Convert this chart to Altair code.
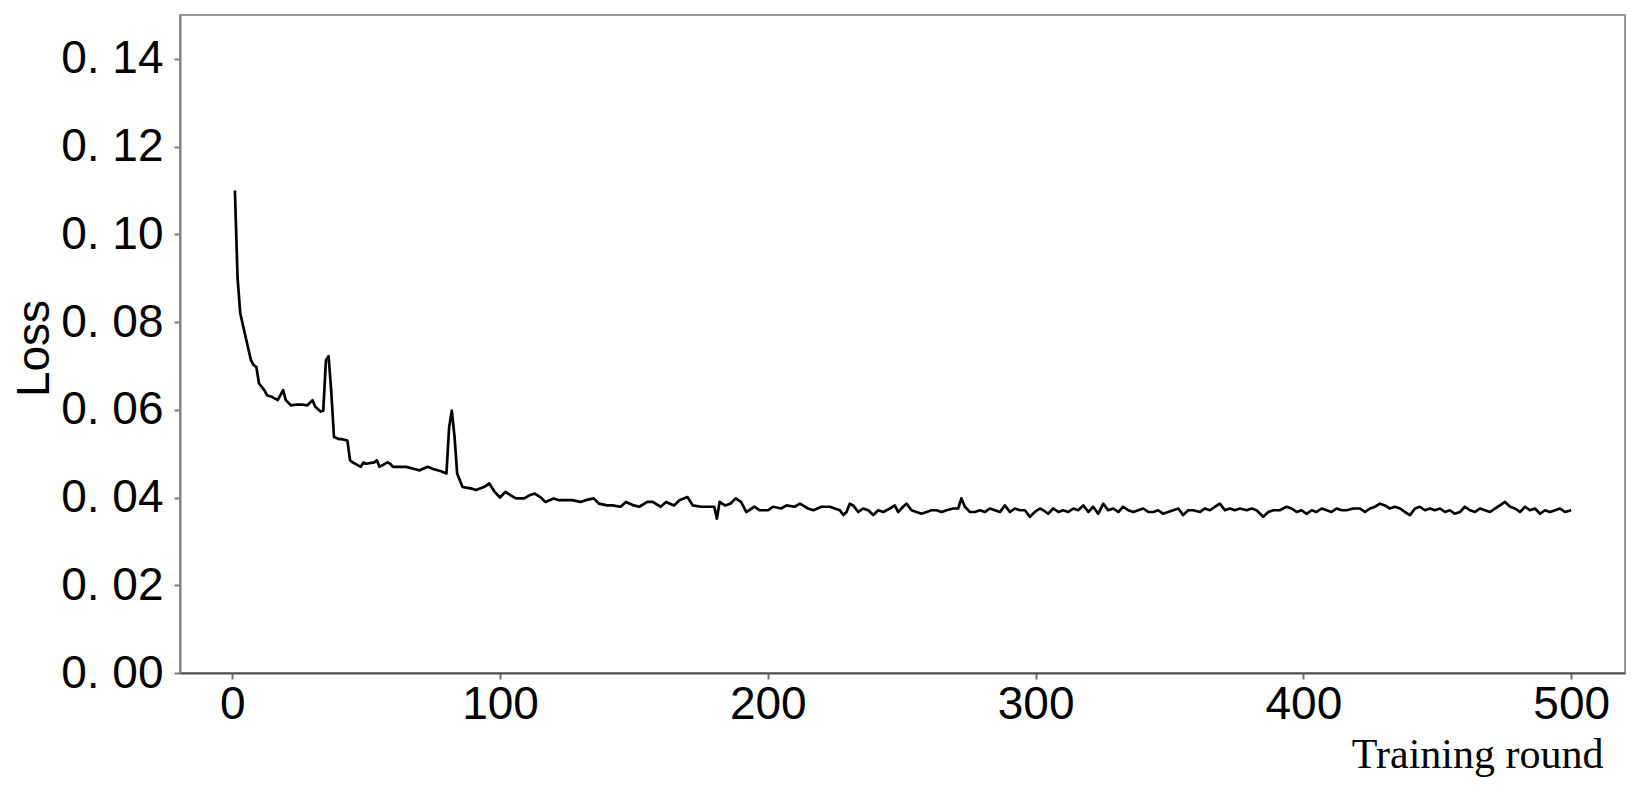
import altair as alt
import pandas as pd

epochs = [
    1, 2, 3, 5, 7, 8, 9, 10, 12, 13, 15, 17, 19, 20, 22, 24, 26, 28, 30, 31,
    33, 34, 35, 36, 37, 38, 40, 41, 43, 44, 45, 48, 49, 50, 53, 54, 55, 58, 59, 60,
    63, 65, 68, 70, 73, 75, 78, 80, 81, 82, 83, 84,
    86, 89, 91, 94, 96, 98, 100, 102, 104, 106, 109, 111, 113, 115, 117, 120, 122, 125,
    127, 130, 132, 135, 137, 140, 142, 145, 147, 150, 152, 155, 157, 160, 162, 165, 167, 170,
    172, 175, 177, 180, 181, 182, 184, 186, 188, 190, 192, 195, 197, 200, 202, 205, 207, 210,
    212, 215, 217, 220,
    223.2, 225.0, 226.9, 228.2, 229.4, 230.6, 231.9, 233.8, 235.6, 237.5, 239.4, 241.2, 243.1,
    245.6, 247.4, 248.7, 250.5, 251.8, 253.7, 255.5, 257.4, 259.3, 261.1, 263.0, 264.9, 266.7,
    269.2, 271.1, 272.3, 273.6, 275.5, 277.3, 279.2, 281.1, 282.9, 284.8, 286.7, 288.5, 290.4,
    292.3, 294.1, 296.0, 297.9, 299.7, 301.6, 302.9, 304.7, 306.6, 308.5, 310.3, 312.2, 314.1,
    315.9, 317.8, 319.7, 321.5, 323.4, 325.3, 327.1, 329.0, 330.9, 332.7, 334.6, 336.5, 338.3,
    340.2, 342.1, 343.9, 345.8, 347.7, 349.5, 351.4, 353.3, 355.1, 357.0,
    358.9, 361.4, 363.2, 365.1, 367.0, 368.8, 370.7, 372.6, 374.4, 376.3, 378.8, 380.7, 382.5,
    385.0, 386.9, 388.8, 391.2, 393.7, 395.6, 397.5, 399.3, 401.2, 403.1, 404.9, 406.8, 408.7,
    410.5, 412.4, 414.3, 416.2, 418.6, 421.1, 423.0, 424.9, 426.7, 428.6, 430.5, 432.3, 434.2,
    436.1, 437.9, 439.8, 441.7, 443.5, 445.4, 447.3, 449.1, 451.0, 452.9, 454.7, 456.6, 458.5,
    460.3, 462.2, 464.1, 465.9, 467.8, 469.7, 471.6, 473.4, 475.3, 477.2, 479.0, 480.9, 482.8,
    484.6, 486.5, 488.4, 490.2, 492.1, 494.0, 495.8, 497.7, 500.0,
]

loss = [
    0.1100, 0.0900, 0.0820, 0.0766, 0.0713, 0.0702, 0.0698, 0.0660, 0.0645, 0.0633,
    0.0629, 0.0622, 0.0645, 0.0622, 0.0610, 0.0612, 0.0612, 0.0610, 0.0622, 0.0607,
    0.0596, 0.0598, 0.0713, 0.0722, 0.0640, 0.0538, 0.0533, 0.0533, 0.0530, 0.0485,
    0.0480, 0.0470, 0.0480, 0.0477, 0.0480, 0.0485, 0.0470, 0.0480, 0.0477, 0.0470,
    0.0470, 0.0470, 0.0465, 0.0462, 0.0470, 0.0465, 0.0460, 0.0455, 0.0560, 0.0598,
    0.0540, 0.0455,
    0.0424, 0.0421, 0.0417, 0.0424, 0.0432, 0.0413, 0.0400, 0.0413, 0.0405, 0.0398,
    0.0398, 0.0405, 0.0409, 0.0401, 0.0390, 0.0398, 0.0394, 0.0394, 0.0394, 0.0390,
    0.0394, 0.0398, 0.0386, 0.0382, 0.0382, 0.0379, 0.0390, 0.0382, 0.0379, 0.0390,
    0.0390, 0.0379, 0.0390, 0.0382, 0.0394, 0.0401, 0.0382, 0.0379, 0.0379, 0.0379,
    0.0352, 0.0390, 0.0382, 0.0386, 0.0398, 0.0390, 0.0367, 0.0379, 0.0371, 0.0371,
    0.0379, 0.0375, 0.0382, 0.0379, 0.0386, 0.0375, 0.0371, 0.0379,
    0.0379, 0.0375, 0.0371, 0.0360, 0.0367, 0.0386, 0.0382, 0.0367, 0.0375, 0.0371,
    0.0360, 0.0371, 0.0367, 0.0375, 0.0382, 0.0367, 0.0379, 0.0386, 0.0371, 0.0367,
    0.0363, 0.0367, 0.0371, 0.0371, 0.0367, 0.0371, 0.0375, 0.0375, 0.0398, 0.0379,
    0.0367, 0.0367, 0.0371, 0.0367, 0.0375, 0.0371, 0.0367, 0.0382, 0.0367, 0.0375,
    0.0371, 0.0371, 0.0356, 0.0367, 0.0375, 0.0371, 0.0363, 0.0375, 0.0367, 0.0371,
    0.0367, 0.0375, 0.0371, 0.0382, 0.0367, 0.0379, 0.0363, 0.0386, 0.0371, 0.0375,
    0.0367, 0.0379, 0.0371, 0.0367, 0.0371, 0.0375, 0.0367, 0.0367, 0.0371, 0.0363,
    0.0367, 0.0371, 0.0375, 0.0360, 0.0371,
    0.0371, 0.0367, 0.0375, 0.0371, 0.0379, 0.0386, 0.0371, 0.0375, 0.0371, 0.0375,
    0.0371, 0.0375, 0.0371, 0.0356, 0.0367, 0.0371, 0.0371, 0.0379, 0.0375, 0.0367,
    0.0371, 0.0363, 0.0371, 0.0367, 0.0375, 0.0371, 0.0367, 0.0375, 0.0371, 0.0371,
    0.0375, 0.0375, 0.0367, 0.0375, 0.0379, 0.0386, 0.0382, 0.0375, 0.0379, 0.0375,
    0.0367, 0.0360, 0.0375, 0.0379, 0.0371, 0.0375, 0.0371, 0.0375, 0.0367, 0.0371,
    0.0363, 0.0367, 0.0379, 0.0371, 0.0367, 0.0375, 0.0371, 0.0367, 0.0375, 0.0382,
    0.0390, 0.0379, 0.0375, 0.0367, 0.0379, 0.0371, 0.0375, 0.0363, 0.0371, 0.0367,
    0.0371, 0.0375, 0.0367, 0.0371,
]

x_ticks = [0, 100, 200, 300, 400, 500]
y_ticks = [0.00, 0.02, 0.04, 0.06, 0.08, 0.10, 0.12, 0.14]

df = pd.DataFrame({"epoch": epochs, "loss": loss})

line = alt.Chart(df).mark_line(color="black", strokeWidth=2.7, strokeJoin="round").encode(
    x=alt.X(
        "epoch:Q",
        scale=alt.Scale(domain=[-19.5, 520.1], nice=False, zero=False),
        axis=alt.Axis(
            values=x_ticks,
            title="Training round",
            labelExpr="format(datum.value, 'd')",
            labelFont="Liberation Sans",
            labelFontSize=46,
            labelColor="black",
            labelPadding=3,
            grid=False,
            domainColor="#505050",
            domainWidth=2,
            tickColor="#707070",
            tickWidth=2,
            tickSize=6,
            titleFont="Liberation Serif",
            titleFontSize=42,
            titleFontWeight="normal",
            titleColor="black",
            titleAnchor="end",
            titleAlign="right",
            titleBaseline="alphabetic",
            titleX=1423,
            titleY=94,
        ),
    ),
    y=alt.Y(
        "loss:Q",
        scale=alt.Scale(domain=[0, 0.15], nice=False),
        axis=alt.Axis(
            values=y_ticks,
            title="Loss",
            labelExpr="replace(format(datum.value, '.2f'), '.', '. ')",
            labelFont="Liberation Sans",
            labelFontSize=46,
            labelColor="black",
            labelPadding=11,
            grid=False,
            domainColor="#808080",
            domainWidth=2,
            tickColor="#808080",
            tickWidth=2,
            tickSize=6,
            titleFont="Liberation Sans",
            titleFontSize=46,
            titleFontWeight="normal",
            titleColor="black",
            titleAngle=270,
            titleAlign="center",
            titleBaseline="alphabetic",
            titleX=-132,
            titleY=333,
        ),
    ),
)

chart = line.properties(
    width=1445,
    height=658,
    background="white",
    autosize=alt.AutoSizeParams(type="none"),
    padding={"left": 172, "top": 7, "right": 13, "bottom": 115},
).configure_view(
    stroke="#9a9a9a",
    strokeWidth=2,
)

chart.save("out.html", embed_options={"renderer": "svg", "actions": False})
